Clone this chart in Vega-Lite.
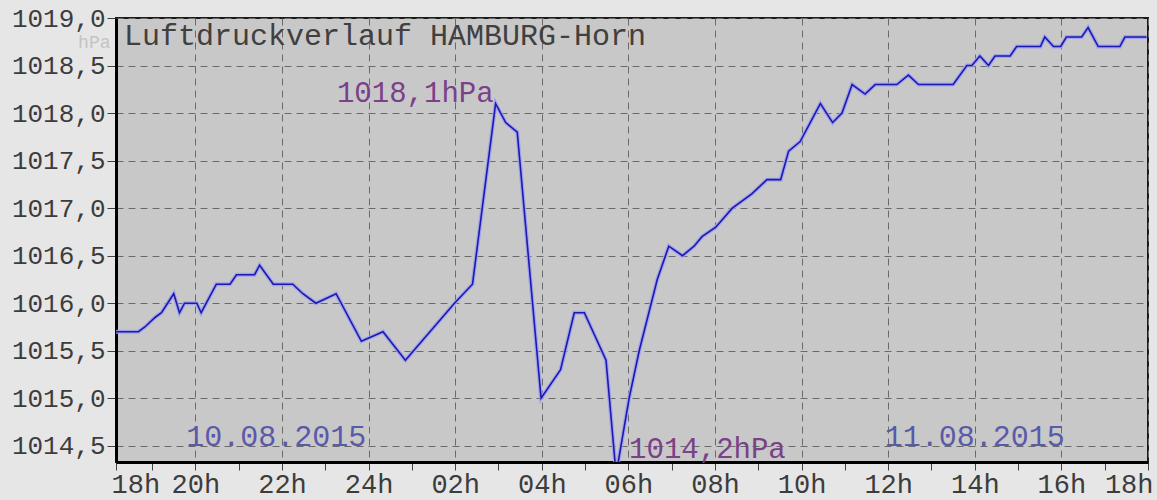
{
  "$schema": "https://vega.github.io/schema/vega-lite/v6.json",
  "width": 1032,
  "height": 444,
  "autosize": {"type": "none"},
  "padding": {"left": 116, "top": 18, "right": 9, "bottom": 38},
  "background": "#e6e6e6",
  "config": {
    "view": {"fill": "#c8c8c8", "stroke": "#1a1a1a", "strokeWidth": 2},
    "font": "Liberation Mono",
    "axis": {"labelFont": "Liberation Mono", "titleFont": "Liberation Mono"}
  },
  "datasets": {
    "p": [
      {"t": "2015-08-10T18:10", "v": 1015.7},
      {"t": "2015-08-10T18:41", "v": 1015.7},
      {"t": "2015-08-10T18:50", "v": 1015.75},
      {"t": "2015-08-10T19:04", "v": 1015.85},
      {"t": "2015-08-10T19:13", "v": 1015.9},
      {"t": "2015-08-10T19:30", "v": 1016.1},
      {"t": "2015-08-10T19:38", "v": 1015.9},
      {"t": "2015-08-10T19:45", "v": 1016.0},
      {"t": "2015-08-10T20:02", "v": 1016.0},
      {"t": "2015-08-10T20:08", "v": 1015.9},
      {"t": "2015-08-10T20:29", "v": 1016.2},
      {"t": "2015-08-10T20:48", "v": 1016.2},
      {"t": "2015-08-10T20:57", "v": 1016.3},
      {"t": "2015-08-10T21:22", "v": 1016.3},
      {"t": "2015-08-10T21:29", "v": 1016.4},
      {"t": "2015-08-10T21:48", "v": 1016.2},
      {"t": "2015-08-10T22:15", "v": 1016.2},
      {"t": "2015-08-10T22:29", "v": 1016.1},
      {"t": "2015-08-10T22:47", "v": 1016.0},
      {"t": "2015-08-10T23:15", "v": 1016.1},
      {"t": "2015-08-10T23:50", "v": 1015.6},
      {"t": "2015-08-11T00:20", "v": 1015.7},
      {"t": "2015-08-11T00:51", "v": 1015.4},
      {"t": "2015-08-11T01:59", "v": 1016.0},
      {"t": "2015-08-11T02:24", "v": 1016.2},
      {"t": "2015-08-11T02:56", "v": 1018.1},
      {"t": "2015-08-11T03:10", "v": 1017.9},
      {"t": "2015-08-11T03:26", "v": 1017.8},
      {"t": "2015-08-11T03:59", "v": 1015.0},
      {"t": "2015-08-11T04:26", "v": 1015.3},
      {"t": "2015-08-11T04:45", "v": 1015.9},
      {"t": "2015-08-11T04:59", "v": 1015.9},
      {"t": "2015-08-11T05:29", "v": 1015.4},
      {"t": "2015-08-11T05:43", "v": 1014.2},
      {"t": "2015-08-11T06:01", "v": 1015.0},
      {"t": "2015-08-11T06:15", "v": 1015.5},
      {"t": "2015-08-11T06:40", "v": 1016.25},
      {"t": "2015-08-11T06:56", "v": 1016.6},
      {"t": "2015-08-11T07:15", "v": 1016.5},
      {"t": "2015-08-11T07:31", "v": 1016.6},
      {"t": "2015-08-11T07:42", "v": 1016.7},
      {"t": "2015-08-11T08:01", "v": 1016.8},
      {"t": "2015-08-11T08:24", "v": 1017.0},
      {"t": "2015-08-11T08:51", "v": 1017.15},
      {"t": "2015-08-11T09:12", "v": 1017.3},
      {"t": "2015-08-11T09:31", "v": 1017.3},
      {"t": "2015-08-11T09:42", "v": 1017.6},
      {"t": "2015-08-11T09:58", "v": 1017.7},
      {"t": "2015-08-11T10:26", "v": 1018.1},
      {"t": "2015-08-11T10:43", "v": 1017.9},
      {"t": "2015-08-11T10:56", "v": 1018.0},
      {"t": "2015-08-11T11:10", "v": 1018.3},
      {"t": "2015-08-11T11:28", "v": 1018.2},
      {"t": "2015-08-11T11:42", "v": 1018.3},
      {"t": "2015-08-11T12:12", "v": 1018.3},
      {"t": "2015-08-11T12:28", "v": 1018.4},
      {"t": "2015-08-11T12:42", "v": 1018.3},
      {"t": "2015-08-11T13:30", "v": 1018.3},
      {"t": "2015-08-11T13:49", "v": 1018.5},
      {"t": "2015-08-11T13:56", "v": 1018.5},
      {"t": "2015-08-11T14:07", "v": 1018.6},
      {"t": "2015-08-11T14:19", "v": 1018.5},
      {"t": "2015-08-11T14:28", "v": 1018.6},
      {"t": "2015-08-11T14:49", "v": 1018.6},
      {"t": "2015-08-11T14:58", "v": 1018.7},
      {"t": "2015-08-11T15:31", "v": 1018.7},
      {"t": "2015-08-11T15:37", "v": 1018.8},
      {"t": "2015-08-11T15:49", "v": 1018.7},
      {"t": "2015-08-11T15:59", "v": 1018.7},
      {"t": "2015-08-11T16:07", "v": 1018.8},
      {"t": "2015-08-11T16:28", "v": 1018.8},
      {"t": "2015-08-11T16:37", "v": 1018.9},
      {"t": "2015-08-11T16:51", "v": 1018.7},
      {"t": "2015-08-11T17:21", "v": 1018.7},
      {"t": "2015-08-11T17:28", "v": 1018.8},
      {"t": "2015-08-11T17:58", "v": 1018.8}
    ],
    "maxLabel": [{"t": "2015-08-11T02:56", "v": 1018.1, "label": "1018,1hPa"}],
    "minLabel": [{"t": "2015-08-11T05:43", "v": 1014.2, "label": "1014,2hPa"}],
    "dates": [
      {"t": "2015-08-10T21:52", "v": 1014.5, "label": "10.08.2015"},
      {"t": "2015-08-11T14:00", "v": 1014.5, "label": "11.08.2015"}
    ],
    "heading": [{"t": "2015-08-10T18:10", "v": 1019.0, "label": "Luftdruckverlauf HAMBURG-Horn"}]
  },
  "layer": [
    {
      "data": {"name": "p"},
      "mark": {"type": "line", "color": "#9c9cf0", "strokeWidth": 4, "opacity": 0.85, "clip": true},
      "encoding": {
        "x": {
          "field": "t", "type": "temporal",
          "scale": {"domain": [{"year": 2015, "month": 8, "date": 10, "hours": 18, "minutes": 10}, {"year": 2015, "month": 8, "date": 11, "hours": 18, "minutes": 0}]},
          "axis": {
            "orient": "bottom", "title": null,
            "values": [
              {"year": 2015, "month": 8, "date": 10, "hours": 18, "minutes": 10},
              {"year": 2015, "month": 8, "date": 10, "hours": 18, "minutes": 30},
              {"year": 2015, "month": 8, "date": 10, "hours": 19, "minutes": 0},
              {"year": 2015, "month": 8, "date": 10, "hours": 19, "minutes": 30},
              {"year": 2015, "month": 8, "date": 10, "hours": 20, "minutes": 0},
              {"year": 2015, "month": 8, "date": 10, "hours": 20, "minutes": 30},
              {"year": 2015, "month": 8, "date": 10, "hours": 21, "minutes": 0},
              {"year": 2015, "month": 8, "date": 10, "hours": 21, "minutes": 30},
              {"year": 2015, "month": 8, "date": 10, "hours": 22, "minutes": 0},
              {"year": 2015, "month": 8, "date": 10, "hours": 22, "minutes": 30},
              {"year": 2015, "month": 8, "date": 10, "hours": 23, "minutes": 0},
              {"year": 2015, "month": 8, "date": 10, "hours": 23, "minutes": 30},
              {"year": 2015, "month": 8, "date": 11, "hours": 0, "minutes": 0},
              {"year": 2015, "month": 8, "date": 11, "hours": 0, "minutes": 30},
              {"year": 2015, "month": 8, "date": 11, "hours": 1, "minutes": 0},
              {"year": 2015, "month": 8, "date": 11, "hours": 1, "minutes": 30},
              {"year": 2015, "month": 8, "date": 11, "hours": 2, "minutes": 0},
              {"year": 2015, "month": 8, "date": 11, "hours": 2, "minutes": 30},
              {"year": 2015, "month": 8, "date": 11, "hours": 3, "minutes": 0},
              {"year": 2015, "month": 8, "date": 11, "hours": 3, "minutes": 30},
              {"year": 2015, "month": 8, "date": 11, "hours": 4, "minutes": 0},
              {"year": 2015, "month": 8, "date": 11, "hours": 4, "minutes": 30},
              {"year": 2015, "month": 8, "date": 11, "hours": 5, "minutes": 0},
              {"year": 2015, "month": 8, "date": 11, "hours": 5, "minutes": 30},
              {"year": 2015, "month": 8, "date": 11, "hours": 6, "minutes": 0},
              {"year": 2015, "month": 8, "date": 11, "hours": 6, "minutes": 30},
              {"year": 2015, "month": 8, "date": 11, "hours": 7, "minutes": 0},
              {"year": 2015, "month": 8, "date": 11, "hours": 7, "minutes": 30},
              {"year": 2015, "month": 8, "date": 11, "hours": 8, "minutes": 0},
              {"year": 2015, "month": 8, "date": 11, "hours": 8, "minutes": 30},
              {"year": 2015, "month": 8, "date": 11, "hours": 9, "minutes": 0},
              {"year": 2015, "month": 8, "date": 11, "hours": 9, "minutes": 30},
              {"year": 2015, "month": 8, "date": 11, "hours": 10, "minutes": 0},
              {"year": 2015, "month": 8, "date": 11, "hours": 10, "minutes": 30},
              {"year": 2015, "month": 8, "date": 11, "hours": 11, "minutes": 0},
              {"year": 2015, "month": 8, "date": 11, "hours": 11, "minutes": 30},
              {"year": 2015, "month": 8, "date": 11, "hours": 12, "minutes": 0},
              {"year": 2015, "month": 8, "date": 11, "hours": 12, "minutes": 30},
              {"year": 2015, "month": 8, "date": 11, "hours": 13, "minutes": 0},
              {"year": 2015, "month": 8, "date": 11, "hours": 13, "minutes": 30},
              {"year": 2015, "month": 8, "date": 11, "hours": 14, "minutes": 0},
              {"year": 2015, "month": 8, "date": 11, "hours": 14, "minutes": 30},
              {"year": 2015, "month": 8, "date": 11, "hours": 15, "minutes": 0},
              {"year": 2015, "month": 8, "date": 11, "hours": 15, "minutes": 30},
              {"year": 2015, "month": 8, "date": 11, "hours": 16, "minutes": 0},
              {"year": 2015, "month": 8, "date": 11, "hours": 16, "minutes": 30},
              {"year": 2015, "month": 8, "date": 11, "hours": 17, "minutes": 0},
              {"year": 2015, "month": 8, "date": 11, "hours": 17, "minutes": 30},
              {"year": 2015, "month": 8, "date": 11, "hours": 18, "minutes": 0}
            ],
            "labelExpr": "minutes(datum.value) == 10 ? '18h' : (minutes(datum.value) == 0 && hours(datum.value) % 2 == 0 ? (hours(datum.value) == 0 ? '24h' : timeFormat(datum.value, '%Hh')) : '')",
            "labelOverlap": false,
            "labelFontSize": 27, "labelColor": "#3c3c3c", "labelBaseline": "alphabetic", "labelPadding": 22,
            "labelFlush": true, "labelFlushOffset": 5,
            "tickSize": 8, "tickColor": "#404040", "tickWidth": 1,
            "domainColor": "#000000", "domainWidth": 3,
            "grid": true, "gridColor": "#6a6a6a", "gridDash": [7, 5], "gridWidth": 1,
            "gridOpacity": {"condition": {"test": "minutes(datum.value) != 0 || hours(datum.value) % 2 == 1", "value": 0}, "value": 1}
          }
        },
        "y": {
          "field": "v", "type": "quantitative",
          "scale": {"domain": [1014.33, 1019.0], "nice": false, "zero": false},
          "axis": {
            "orient": "left",
            "values": [1014.5, 1014.75, 1015.0, 1015.25, 1015.5, 1015.75, 1016.0, 1016.25, 1016.5, 1016.75, 1017.0, 1017.25, 1017.5, 1017.75, 1018.0, 1018.25, 1018.5, 1018.75, 1019.0],
            "labelExpr": "(datum.value * 2) % 1 != 0 ? '' : replace(format(datum.value, '.1f'), '.', ',')",
            "labelOverlap": false,
            "labelFontSize": 26, "labelColor": "#3c3c3c", "labelPadding": 2,
            "tickSize": 9, "tickColor": "#404040", "tickWidth": 1,
            "domainColor": "#000000", "domainWidth": 3,
            "grid": true, "gridColor": "#6a6a6a", "gridDash": [7, 5], "gridWidth": 1,
            "gridOpacity": {"condition": {"test": "(datum.value * 2) % 1 != 0", "value": 0}, "value": 1},
            "title": "hPa", "titleAngle": 0, "titleAlign": "right", "titleBaseline": "middle",
            "titleX": -6, "titleY": 24, "titleFontSize": 18, "titleFontWeight": "normal", "titleColor": "#c4c4c4"
          }
        }
      }
    },
    {
      "data": {"name": "p"},
      "mark": {"type": "line", "color": "#1a1aae", "strokeWidth": 1.6, "clip": true},
      "encoding": {
        "x": {"field": "t", "type": "temporal"},
        "y": {"field": "v", "type": "quantitative"}
      }
    },
    {
      "data": {"name": "maxLabel"},
      "mark": {"type": "text", "align": "right", "baseline": "alphabetic", "dx": -2, "dy": -2, "fontSize": 29, "color": "#7b4088"},
      "encoding": {
        "x": {"field": "t", "type": "temporal"},
        "y": {"field": "v", "type": "quantitative"},
        "text": {"field": "label"}
      }
    },
    {
      "data": {"name": "minLabel"},
      "mark": {"type": "text", "align": "left", "baseline": "alphabetic", "dx": 13, "dy": -16, "fontSize": 29, "color": "#7b4088"},
      "encoding": {
        "x": {"field": "t", "type": "temporal"},
        "y": {"field": "v", "type": "quantitative"},
        "text": {"field": "label"}
      }
    },
    {
      "data": {"name": "dates"},
      "mark": {"type": "text", "align": "center", "baseline": "alphabetic", "fontSize": 30, "color": "#5a5aa8"},
      "encoding": {
        "x": {"field": "t", "type": "temporal"},
        "y": {"field": "v", "type": "quantitative"},
        "text": {"field": "label"}
      }
    },
    {
      "data": {"name": "heading"},
      "mark": {"type": "text", "align": "left", "baseline": "alphabetic", "dx": 8, "dy": 27, "fontSize": 30, "color": "#404040"},
      "encoding": {
        "x": {"field": "t", "type": "temporal"},
        "y": {"field": "v", "type": "quantitative"},
        "text": {"field": "label"}
      }
    }
  ]
}
